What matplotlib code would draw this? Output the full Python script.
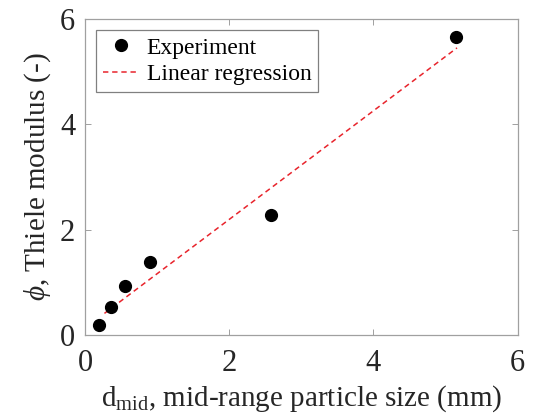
import numpy as np
import matplotlib
matplotlib.use("Agg")
import matplotlib.pyplot as plt

d_mid = [0.19, 0.36, 0.56, 0.90, 2.58, 5.14]
phi = [0.19, 0.53, 0.93, 1.38, 2.27, 5.65]

# regression line end points
reg_x = [0.27, 5.16]
reg_y = [0.41, 5.45]

xticks = [0, 2, 4, 6]
yticks = [0, 2, 4, 6]

plt.rcParams["font.family"] = ["Liberation Serif", "DejaVu Serif"]
plt.rcParams["mathtext.fontset"] = "custom"
plt.rcParams["mathtext.rm"] = "Liberation Serif"
plt.rcParams["mathtext.it"] = "Liberation Serif:italic"

fig = plt.figure(figsize=(5.5, 4.2), dpi=100)
ax = fig.add_axes([0.1545, 0.2024, 0.7865, 0.7526])

ax.plot(d_mid, phi, "o", color="black", ms=8.5, label="Experiment", zorder=3)
ax.plot(reg_x, reg_y, "--", color="#e8242c", lw=1.1, dashes=(3.5, 2.5),
        label="Linear regression", zorder=2)

ax.set_xlim(0, 6)
ax.set_ylim(0, 6)
ax.set_xticks(xticks)
ax.set_yticks(yticks)
for s in ax.spines.values():
    s.set_color("#a0a0a0")
    s.set_linewidth(0.9)
ax.tick_params(direction="in", top=True, right=True, length=4, width=0.7,
               color="#a0a0a0", labelcolor="#262626", labelsize=22)
ax.tick_params(axis="x", pad=10)
ax.tick_params(axis="y", pad=7)

ax.set_xlabel(r"d$_{\mathrm{mid}}$, mid-range particle size (mm)", fontsize=21,
              color="#262626", labelpad=4)
ax.set_ylabel(r"$\phi$, Thiele modulus (-)", fontsize=21, color="#262626",
              labelpad=5)

leg = ax.legend(loc="upper left", bbox_to_anchor=(0.025, 0.965), borderaxespad=0,
                fontsize=17, fancybox=False, framealpha=1, edgecolor="#808080",
                handlelength=1.5, handletextpad=0.35, borderpad=0.3, labelspacing=0.2)
leg.get_frame().set_linewidth(0.9)

fig.savefig("out.png", dpi=100)
